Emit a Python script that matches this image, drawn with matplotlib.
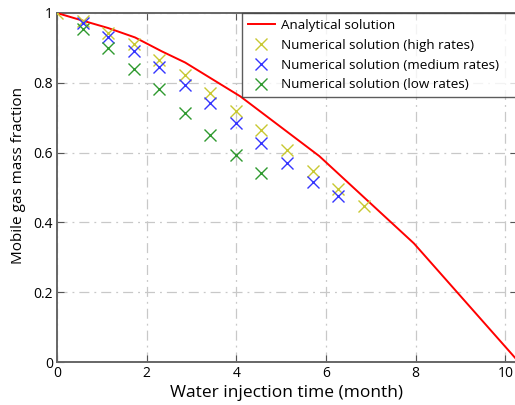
import numpy as np
import matplotlib
matplotlib.use("Agg")
import matplotlib.pyplot as plt

plt.rcParams["font.family"] = ["Open Sans", "DejaVu Sans"]

# analytical solution
t_ana = [0, 0.55, 1.14, 1.74, 2.34, 2.86, 4.09, 5.85, 7.96, 10.3]
y_ana = [1.0, 0.979, 0.957, 0.930, 0.890, 0.858, 0.761, 0.590, 0.340, 0.0]

# numerical samples every ~0.57 month
step = 0.57
y_high = [1.0, 0.978, 0.942, 0.910, 0.866, 0.823, 0.771, 0.718, 0.664, 0.607, 0.547, 0.495, 0.447]
y_med = [0.972, 0.932, 0.891, 0.844, 0.794, 0.742, 0.685, 0.628, 0.569, 0.515, 0.476]
y_low = [0.953, 0.899, 0.840, 0.783, 0.714, 0.651, 0.592, 0.542]

t_high = step * np.arange(len(y_high))
t_med = step * np.arange(1, len(y_med) + 1)
t_low = step * np.arange(1, len(y_low) + 1)

fig = plt.figure(figsize=(5.15, 4.05), dpi=100)
ax = fig.add_axes([57 / 515, 43 / 405, 1.003 - 57 / 515, 349 / 405])

ax.plot(t_ana, y_ana, color="#ff0000", lw=1.4, label="Analytical solution", zorder=3)
ax.plot(t_high, y_high, "x", color="#c8c832", ms=8, mew=1.0, label="Numerical solution (high rates)", zorder=4)
ax.plot(t_med, y_med, "x", color="#3535ff", ms=8, mew=1.0, label="Numerical solution (medium rates)", zorder=4)
ax.plot(t_low, y_low, "x", color="#2f9a2f", ms=8, mew=1.0, label="Numerical solution (low rates)", zorder=4)

ax.set_xlim(0, 10.25)
ax.set_ylim(0, 1)
ax.set_xticks([0, 2, 4, 6, 8, 10])
ax.set_yticks([0, 0.2, 0.4, 0.6, 0.8, 1])
ax.set_yticklabels(["0", "0.2", "0.4", "0.6", "0.8", "1"])
ax.grid(True, ls=(0, (8, 4, 1.5, 4)), color="#c8c8c8", lw=0.9)
ax.tick_params(direction="in", top=True, right=True, labelsize=10, length=5,
               color="#555555", pad=3)
for s in ax.spines.values():
    s.set_color("#666666")
    s.set_linewidth(1.4)

ax.set_xlabel("Water injection time (month)", fontsize=12.5, labelpad=3)
ax.set_ylabel("Mobile gas mass fraction", fontsize=11)
ax.yaxis.set_label_coords(-0.068, 0.535)

leg = ax.legend(loc="upper left", bbox_to_anchor=(0.402, 0, 0.62, 1.0), mode="expand",
                fontsize=9.7, frameon=True, fancybox=False, borderaxespad=0,
                handlelength=2.0, labelspacing=0.5, borderpad=0.45, handletextpad=0.5)
leg.get_frame().set_edgecolor("#333333")
leg.get_frame().set_linewidth(1.0)

fig.savefig("out.png", dpi=100)
